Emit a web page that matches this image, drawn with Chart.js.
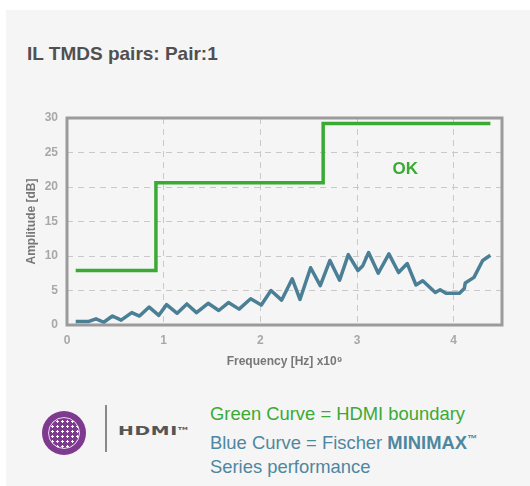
<!DOCTYPE html>
<html>
<head>
<meta charset="utf-8">
<script src="https://cdn.jsdelivr.net/npm/chart.js@4"></script>
<style>
  html, body { margin: 0; padding: 0; background: #fff; }
  body { width: 530px; height: 486px; position: relative; overflow: hidden; font-family: "Liberation Sans", Arial, sans-serif; }
  #panel { position: absolute; left: 6px; top: 10px; right: 0; bottom: 0; background: #f5f5f5; }
  #title { position: absolute; left: 27px; top: 43px; font-size: 19px; font-weight: bold; color: #505050; }
  #wrap { position: absolute; left: 0; top: 0; width: 530px; height: 380px; }
  #logo { position: absolute; left: 42px; top: 411px; width: 44px; height: 44px; border-radius: 50%; background: #7d3a8e; }
  #logo .in { position: absolute; left: 6px; top: 6px; width: 30px; height: 30px; border-radius: 50%; border: 1px solid #e8d8ee;
    background-image: radial-gradient(circle, #fff 1px, transparent 1.3px); background-size: 5px 5px; background-position: 1px 1px; }
  #sep { position: absolute; left: 105px; top: 405px; width: 2px; height: 47px; background: #8a8a8a; }
  #hdmi { position: absolute; left: 118px; top: 423px; font-family: "DejaVu Sans", sans-serif; font-weight: bold; font-size: 13px; letter-spacing: 0.5px; color: #555; transform: scaleX(1.45); transform-origin: left center; }
  #hdmi sup { font-size: 4px; letter-spacing: 0; }
  #legend { position: absolute; left: 210px; top: 402px; font-size: 18.4px; line-height: 24.5px; }
  .g { color: #3aaa35; }
  .b { color: #4e87a0; }
  .b sup { font-size: 10px; font-weight: bold; }
</style>
</head>
<body>
<div id="panel"></div>
<div id="title">IL TMDS pairs: Pair:1</div>
<div id="wrap"><canvas id="ilChart" width="530" height="380"></canvas></div>
<div id="logo"><div class="in"></div></div>
<div id="sep"></div>
<div id="hdmi">HDMI<sup>TM</sup></div>
<div id="legend">
  <div class="g">Green Curve = HDMI boundary</div>
  <div class="b">Blue Curve = Fischer <b>MINIMAX</b><sup>™</sup></div>
  <div class="b">Series performance</div>
</div>
<script>
// HDMI boundary (step curve), frequency in GHz
const boundaryFreq = [0.09, 0.92, 2.65, 4.38];
const boundaryAmp = [7.9, 20.6, 29.2, 29.2];

// Fischer MINIMAX measurement
const cableFreq = [0.09, 0.22, 0.30, 0.38, 0.47, 0.56, 0.67, 0.75, 0.85, 0.95,
  1.03, 1.14, 1.24, 1.34, 1.46, 1.57, 1.67, 1.78, 1.90, 2.01,
  2.11, 2.22, 2.33, 2.41, 2.52, 2.62, 2.72, 2.82, 2.91, 3.01,
  3.06, 3.12, 3.22, 3.33, 3.43, 3.52, 3.61, 3.68, 3.81, 3.86,
  3.92, 4.06, 4.11, 4.12, 4.21, 4.30, 4.38];
const cableAmp = [0.5, 0.5, 0.9, 0.4, 1.3, 0.7, 1.8, 1.3, 2.6, 1.4,
  2.95, 1.7, 3.05, 1.8, 3.15, 2.1, 3.25, 2.3, 3.8, 2.9,
  5.0, 3.6, 6.7, 3.7, 8.3, 5.7, 9.35, 6.5, 10.2, 7.9,
  8.6, 10.5, 7.5, 10.3, 7.6, 8.9, 5.8, 6.4, 4.7, 5.1,
  4.6, 4.6, 5.3, 6.1, 6.9, 9.35, 10.1];

const xTicks = [0, 1, 2, 3, 4];
const okLabel = { text: "OK", x: 3.5, y: 22.5 };

const GREEN = "#3aaa35";
const BLUE = "#4a7f96";

function toPoints(xs, ys) {
  return xs.map((x, i) => ({ x: x, y: ys[i] }));
}

// frame round the plot + the OK label
const framePlugin = {
  id: "frame",
  afterDatasetsDraw(chart) {
    const { ctx, chartArea: a, scales } = chart;
    ctx.save();
    ctx.strokeStyle = "#9b9b9b";
    ctx.lineWidth = 3;
    ctx.strokeRect(a.left, a.top, a.right - a.left, a.bottom - a.top);
    ctx.fillStyle = GREEN;
    ctx.font = "bold 17px 'Liberation Sans', Arial, sans-serif";
    ctx.textAlign = "center";
    ctx.textBaseline = "middle";
    ctx.fillText(okLabel.text, scales.x.getPixelForValue(okLabel.x), scales.y.getPixelForValue(okLabel.y));
    ctx.restore();
  },
};

const tickFont = { family: "'Liberation Sans', Arial, sans-serif", size: 12, weight: "bold" };

new Chart(document.getElementById("ilChart"), {
  type: "line",
  data: {
    datasets: [
      {
        label: "HDMI boundary",
        data: toPoints(boundaryFreq, boundaryAmp),
        borderColor: GREEN,
        borderWidth: 3.5,
        stepped: "before",
        pointRadius: 0,
      },
      {
        label: "Fischer MINIMAX",
        data: toPoints(cableFreq, cableAmp),
        borderColor: BLUE,
        borderWidth: 3.5,
        borderJoinStyle: "round",
        pointRadius: 0,
        tension: 0,
      },
    ],
  },
  options: {
    responsive: false,
    animation: false,
    layout: { padding: { left: 0, right: 28, top: 118, bottom: 0 } },
    plugins: { legend: { display: false }, tooltip: { enabled: false } },
    scales: {
      x: {
        type: "linear",
        min: 0,
        max: 4.5,
        afterBuildTicks: (s) => {
          s.ticks = xTicks.map((v) => ({ value: v }));
        },
        afterFit: (s) => {
          s.height = 55;
        },
        border: { display: false, dash: [6, 5] },
        grid: { color: "#c9c9c9", lineWidth: 1, drawTicks: false },
        ticks: { color: "#a8a8a8", font: tickFont, padding: 8 },
        title: {
          display: true,
          text: "Frequency [Hz] x10⁹",
          color: "#777",
          font: tickFont,
          padding: { top: 4, bottom: 11 },
        },
      },
      y: {
        min: 0,
        max: 30,
        ticks: { stepSize: 5, color: "#a8a8a8", font: tickFont, padding: 9 },
        afterFit: (s) => {
          s.width = 67;
        },
        border: { display: false, dash: [6, 5] },
        grid: { color: "#c9c9c9", lineWidth: 1, drawTicks: false },
        title: {
          display: true,
          text: "Amplitude [dB]",
          color: "#777",
          font: tickFont,
          padding: { top: 24, bottom: 4 },
        },
      },
    },
  },
  plugins: [framePlugin],
});
</script>
</body>
</html>
